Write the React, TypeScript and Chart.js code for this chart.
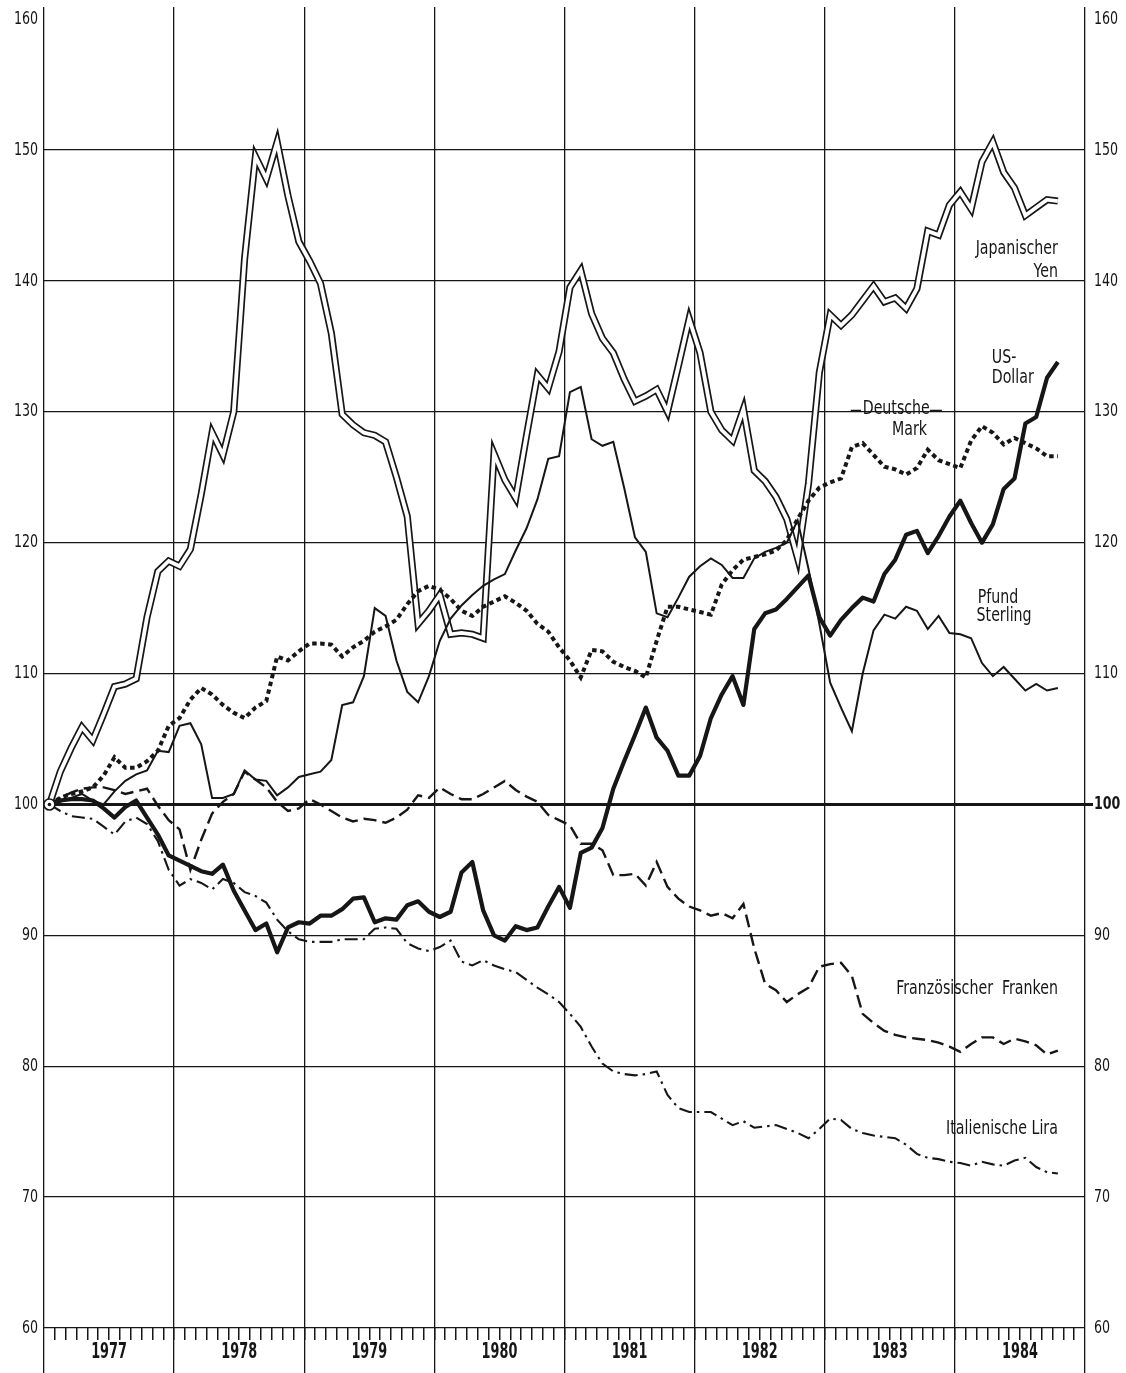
import React, { useEffect, useRef } from "react";
import { Chart, registerables } from "chart.js";

Chart.register(...registerables);

const YEARS = ["1977", "1978", "1979", "1980", "1981", "1982", "1983", "1984"];
const Y_TICKS = [60, 70, 80, 90, 100, 110, 120, 130, 140, 150, 160];

// monthly index values, Jan 1977 = 100 ... Oct 1984
const YEN = [
  100.0, 102.5, 104.3, 105.9, 104.9, 106.9, 109.0, 109.2, 109.6, 114.3, 117.8, 118.6,
  118.2, 119.5, 123.7, 128.4, 126.7, 130.0, 141.7, 149.5, 147.8, 150.6, 146.5, 143.0,
  141.5, 139.8, 136.0, 129.8, 129.0, 128.4, 128.2, 127.7, 125.0, 122.0, 113.8, 114.8,
  116.0, 113.0, 113.1, 113.0, 112.7, 126.8, 124.8, 123.4, 128.2, 132.8, 131.8, 134.6,
  139.5, 140.8, 137.5, 135.6, 134.5, 132.5, 130.8, 131.2, 131.7, 130.0, 133.5, 137.1,
  134.5, 130.0, 128.6, 127.8, 130.2, 125.5, 124.7, 123.5, 121.8, 118.8, 124.5, 133.0,
  137.4, 136.6, 137.4, 138.5, 139.6, 138.4, 138.7, 137.9, 139.4, 143.8, 143.5, 145.8,
  146.8, 145.5, 149.1, 150.6, 148.3, 147.1, 145.0, 145.6, 146.2, 146.1,
];
const DOLLAR = [
  100.0, 100.3, 100.4, 100.4, 100.3, 99.7, 99.0, 99.8, 100.3, 99.0, 97.7, 96.1,
  95.7, 95.3, 94.9, 94.7, 95.4, 93.4, 91.9, 90.4, 90.9, 88.7, 90.6, 91.0,
  90.9, 91.5, 91.5, 92.0, 92.8, 92.9, 91.0, 91.3, 91.2, 92.3, 92.6, 91.8,
  91.4, 91.8, 94.8, 95.6, 91.9, 90.0, 89.6, 90.7, 90.4, 90.6, 92.2, 93.7,
  92.1, 96.3, 96.7, 98.2, 101.2, 103.3, 105.3, 107.4, 105.1, 104.1, 102.2, 102.2,
  103.7, 106.6, 108.4, 109.8, 107.6, 113.4, 114.6, 114.9, 115.7, 116.6, 117.5, 114.3,
  112.9, 114.1, 115.0, 115.8, 115.5, 117.6, 118.7, 120.6, 120.9, 119.2, 120.5, 122.0,
  123.2, 121.5, 120.0, 121.4, 124.1, 124.9, 129.1, 129.6, 132.6, 133.8,
];
const MARK = [
  100.0, 100.5, 100.8, 101.0, 101.3, 102.2, 103.6, 102.8, 102.8, 103.3, 104.1, 106.0,
  106.6, 108.0, 108.9, 108.4, 107.6, 107.0, 106.6, 107.4, 107.9, 111.3, 111.0, 111.7,
  112.3, 112.3, 112.2, 111.3, 112.0, 112.5, 113.2, 113.6, 114.1, 115.3, 116.3, 116.7,
  116.4, 115.7, 114.8, 114.4, 115.1, 115.5, 115.9, 115.4, 114.8, 113.8, 113.2, 112.0,
  111.0, 109.7, 111.8, 111.7, 110.9, 110.5, 110.2, 109.7, 112.5, 115.1, 115.1, 114.9,
  114.7, 114.5, 116.8, 117.9, 118.7, 118.9, 119.1, 119.4, 120.2, 121.8, 123.2, 124.2,
  124.6, 124.9, 127.3, 127.6, 126.7, 125.8, 125.6, 125.2, 125.7, 127.1, 126.3, 126.0,
  125.7, 127.8, 128.9, 128.4, 127.5, 128.0, 127.6, 127.2, 126.6, 126.6,
];
const POUND = [
  100.0, 100.2, 100.5, 100.8, 100.3, 100.0, 101.0, 101.8, 102.3, 102.6, 104.1, 104.0,
  106.0, 106.2, 104.6, 100.5, 100.5, 100.8, 102.6, 101.9, 101.8, 100.7, 101.3, 102.1,
  102.3, 102.5, 103.4, 107.6, 107.8, 109.8, 115.0, 114.4, 111.0, 108.6, 107.8, 109.8,
  112.5, 114.2, 115.2, 116.0, 116.7, 117.2, 117.6, 119.4, 121.1, 123.3, 126.4, 126.6,
  131.5, 131.9, 127.9, 127.4, 127.7, 124.2, 120.4, 119.3, 114.6, 114.3, 115.8, 117.4,
  118.2, 118.8, 118.3, 117.3, 117.3, 118.8, 119.3, 119.6, 120.0, 121.7, 118.0, 113.8,
  109.3, 107.4, 105.6, 110.0, 113.3, 114.5, 114.2, 115.1, 114.8, 113.4, 114.4, 113.1,
  113.0, 112.7, 110.8, 109.8, 110.5, 109.6, 108.7, 109.2, 108.7, 108.9,
];
const FRANC = [
  100.0, 100.5, 100.9, 101.2, 101.3, 101.3, 101.1, 100.8, 101.0, 101.2, 99.9, 98.8,
  98.1, 95.0, 97.3, 99.3, 100.2, 100.8, 102.5, 101.9, 101.3, 100.2, 99.5, 99.7,
  100.4, 100.0, 99.5, 99.0, 98.7, 98.9, 98.8, 98.6, 99.0, 99.6, 100.7, 100.5,
  101.3, 100.8, 100.4, 100.4, 100.8, 101.3, 101.8, 101.1, 100.6, 100.2, 99.2, 98.8,
  98.4, 97.0, 97.0, 96.5, 94.6, 94.6, 94.7, 93.8, 95.6, 93.7, 92.8, 92.2,
  91.9, 91.5, 91.7, 91.3, 92.4, 89.0, 86.3, 85.8, 84.9, 85.5, 86.0, 87.6,
  87.8, 87.9, 86.9, 84.0, 83.3, 82.7, 82.4, 82.2, 82.1, 82.0, 81.8, 81.5,
  81.1, 81.7, 82.2, 82.2, 81.7, 82.1, 81.9, 81.6, 80.9, 81.2,
];
const LIRA = [
  100.0, 99.5, 99.1, 99.0, 98.9, 98.3, 97.7, 98.7, 99.0, 98.5, 97.2, 95.0,
  93.8, 94.3, 94.0, 93.5, 94.3, 94.0, 93.3, 93.0, 92.5, 91.2, 90.3, 89.7,
  89.5, 89.5, 89.5, 89.7, 89.7, 89.7, 90.5, 90.6, 90.5, 89.4, 89.0, 88.8,
  89.1, 89.6, 88.0, 87.7, 88.1, 87.7, 87.4, 87.2, 86.6, 86.0, 85.5, 84.9,
  84.0, 83.0, 81.5, 80.2, 79.6, 79.4, 79.3, 79.4, 79.6, 77.8, 76.8, 76.5,
  76.5, 76.5, 76.0, 75.5, 75.8, 75.3, 75.4, 75.5, 75.2, 74.9, 74.5, 75.2,
  76.0, 75.9, 75.2, 74.9, 74.7, 74.6, 74.5, 74.0, 73.3, 73.0, 72.9, 72.7,
  72.6, 72.4, 72.7, 72.5, 72.4, 72.8, 73.0, 72.3, 71.9, 71.8,
];

const FAMILY = "'DejaVu Sans Condensed', 'DejaVu Sans', 'Liberation Sans', sans-serif";
const INK = "#161616";

const toPoints = (values: number[]) => values.map((v, i) => ({ x: i + 0.5, y: v }));

// draws horizontally compressed text to imitate the narrow typeface of the original
function narrowText(
  ctx: CanvasRenderingContext2D,
  text: string,
  x: number,
  y: number,
  align: CanvasTextAlign,
  font: string,
  sx: number
) {
  ctx.save();
  ctx.font = font;
  ctx.fillStyle = INK;
  ctx.textAlign = align;
  ctx.textBaseline = "middle";
  ctx.translate(x, y);
  ctx.scale(sx, 1);
  ctx.fillText(text, 0, 0);
  ctx.restore();
}

const textPlugin = {
  id: "texts",
  afterDraw(chart: any) {
    const { ctx, scales } = chart;
    const px = (m: number) => scales.x.getPixelForValue(m);
    const py = (v: number) => scales.y.getPixelForValue(v);

    // axis tick labels (values and positions from the scales)
    for (const id of ["y", "y2"]) {
      const s = scales[id];
      s.ticks.forEach((t: any) => {
        const y = s.getPixelForValue(t.value);
        if (id === "y") {
          narrowText(ctx, String(t.label), s.right - 6, y, "right", `18px ${FAMILY}`, 0.78);
        } else {
          const f = t.value === 100 ? `bold 18px ${FAMILY}` : `18px ${FAMILY}`;
          narrowText(ctx, String(t.label), s.left + 9, y, "left", f, 0.78);
        }
      });
    }
    const xl = scales.xl;
    xl.ticks.forEach((t: any) => {
      narrowText(ctx, String(t.label), xl.getPixelForValue(t.value), xl.top + 25, "center", `bold 21px ${FAMILY}`, 0.68);
    });

    // series names
    const f = `19px ${FAMILY}`;
    const sx = 0.83;
    const put = (t: string, m: number, v: number, align: CanvasTextAlign) =>
      narrowText(ctx, t, px(m), py(v), align, f, sx);
    put("Japanischer", 93.5, 142.4, "right");
    put("Yen", 93.5, 140.7, "right");
    put("US-", 87.4, 134.1, "left");
    put("Dollar", 87.4, 132.6, "left");
    put("Deutsche", 75.5, 130.2, "left");
    put("Mark", 78.2, 128.6, "left");
    put("Pfund", 86.1, 115.8, "left");
    put("Sterling", 86.0, 114.4, "left");
    put("Französischer  Franken", 93.5, 85.9, "right");
    put("Italienische Lira", 93.5, 75.2, "right");
    ctx.save();
    ctx.strokeStyle = INK;
    ctx.lineWidth = 1.3;
    ctx.beginPath();
    ctx.moveTo(px(74.4), py(130.1));
    ctx.lineTo(px(75.35), py(130.1));
    ctx.moveTo(px(81.7), py(130.1));
    ctx.lineTo(px(82.8), py(130.1));
    ctx.stroke();
    ctx.restore();
  },
};

const baseLine = {
  fill: false,
  pointRadius: 0,
  tension: 0,
  borderJoinStyle: "miter" as const,
};

export default function App() {
  const ref = useRef<HTMLCanvasElement | null>(null);

  useEffect(() => {
    if (!ref.current) return;
    const yearBounds = YEARS.map((_, k) => k * 12).concat([YEARS.length * 12]);
    const months: number[] = [];
    for (let m = 1; m < YEARS.length * 12; m++) months.push(m);
    const yMax = 60 + 1323 / 13.11;

    const chart = new Chart(ref.current, {
      type: "line",
      data: {
        datasets: [
          {
            ...baseLine,
            label: "start",
            data: [{ x: 0.5, y: DOLLAR[0] }],
            showLine: false,
            pointRadius: 5.5,
            pointBorderWidth: 1.6,
            pointBorderColor: INK,
            pointBackgroundColor: "#fff",
            order: 0,
          },
          {
            ...baseLine,
            label: "startDot",
            data: [{ x: 0.5, y: DOLLAR[0] }],
            showLine: false,
            pointRadius: 1.8,
            pointBorderWidth: 0,
            pointBackgroundColor: INK,
            order: -1,
          },
          {
            ...baseLine,
            label: "US-Dollar",
            data: toPoints(DOLLAR),
            borderColor: INK,
            borderWidth: 4.2,
            borderJoinStyle: "round",
            order: 1,
          },
          {
            ...baseLine,
            label: "Deutsche Mark",
            data: toPoints(MARK),
            borderColor: INK,
            borderWidth: 4,
            borderDash: [4.5, 3.5],
            order: 2,
          },
          {
            ...baseLine,
            label: "Pfund Sterling",
            data: toPoints(POUND),
            borderColor: INK,
            borderWidth: 2,
            order: 3,
          },
          {
            ...baseLine,
            label: "Französischer Franken",
            data: toPoints(FRANC),
            borderColor: INK,
            borderWidth: 2.4,
            borderDash: [13, 6],
            order: 4,
          },
          {
            ...baseLine,
            label: "Italienische Lira",
            data: toPoints(LIRA),
            borderColor: INK,
            borderWidth: 2.1,
            borderDash: [13, 5, 2.5, 5],
            order: 5,
          },
          {
            ...baseLine,
            label: "Japanischer Yen (inner)",
            data: toPoints(YEN),
            borderColor: "#ffffff",
            borderWidth: 3.8,
            order: 8,
          },
          {
            ...baseLine,
            label: "Japanischer Yen",
            data: toPoints(YEN),
            borderColor: INK,
            borderWidth: 7.2,
            order: 9,
          },
        ],
      },
      options: {
        responsive: false,
        animation: false,
        events: [],
        layout: { padding: { top: 5, left: 0, right: 0, bottom: 0 } },
        plugins: { legend: { display: false }, tooltip: { enabled: false } },
        scales: {
          x: {
            type: "linear",
            position: "bottom",
            min: 0,
            max: YEARS.length * 12,
            weight: 0,
            afterBuildTicks: (s: any) => {
              s.ticks = yearBounds.map((v) => ({ value: v }));
            },
            afterFit: (s: any) => {
              s.height = 0;
            },
            grid: { color: INK, lineWidth: 1.3, drawTicks: true, tickLength: 45, tickColor: INK },
            border: { display: false },
            ticks: { display: false },
          },
          xm: {
            type: "linear",
            position: "bottom",
            min: 0,
            max: YEARS.length * 12,
            weight: 1,
            afterBuildTicks: (s: any) => {
              s.ticks = months.map((v) => ({ value: v }));
            },
            afterFit: (s: any) => {
              s.height = 0;
            },
            grid: { drawOnChartArea: false, drawTicks: true, tickLength: 12, color: INK, lineWidth: 1.5 },
            border: { display: false },
            ticks: { display: false },
          },
          xl: {
            type: "linear",
            position: "bottom",
            min: 0,
            max: YEARS.length * 12,
            weight: 2,
            afterBuildTicks: (s: any) => {
              s.ticks = YEARS.map((_, k) => ({ value: k * 12 + 6 }));
            },
            afterFit: (s: any) => {
              s.height = 45;
            },
            grid: { display: false, drawTicks: false },
            border: { display: false },
            ticks: { display: false, callback: (_v: any, i: number) => YEARS[i] },
          },
          y: {
            type: "linear",
            position: "left",
            min: 60,
            max: yMax,
            afterBuildTicks: (s: any) => {
              s.ticks = Y_TICKS.map((v) => ({ value: v }));
            },
            afterFit: (s: any) => {
              s.width = 44;
            },
            grid: {
              drawTicks: false,
              color: (c: any) => (c.tick && c.tick.value === 160 ? "rgba(0,0,0,0)" : INK),
              lineWidth: (c: any) => (c.tick && c.tick.value === 100 ? 3 : 1.3),
            },
            border: { display: false },
            ticks: { display: false },
          },
          y2: {
            type: "linear",
            position: "right",
            min: 60,
            max: yMax,
            afterBuildTicks: (s: any) => {
              s.ticks = Y_TICKS.map((v) => ({ value: v }));
            },
            afterFit: (s: any) => {
              s.width = 41;
            },
            grid: {
              drawOnChartArea: false,
              drawTicks: true,
              tickLength: 8,
              lineWidth: 3,
              tickColor: (c: any) => (c.tick && c.tick.value === 100 ? INK : "rgba(0,0,0,0)"),
            },
            border: { display: false },
            ticks: { display: false },
          },
        },
      } as any,
      plugins: [textPlugin],
    });
    return () => chart.destroy();
  }, []);

  return (
    <div style={{ position: "fixed", left: 0, top: 0, width: 1126, height: 1373, background: "#fff" }}>
      <canvas ref={ref} width={1126} height={1373} style={{ display: "block", width: 1126, height: 1373 }} />
    </div>
  );
}
